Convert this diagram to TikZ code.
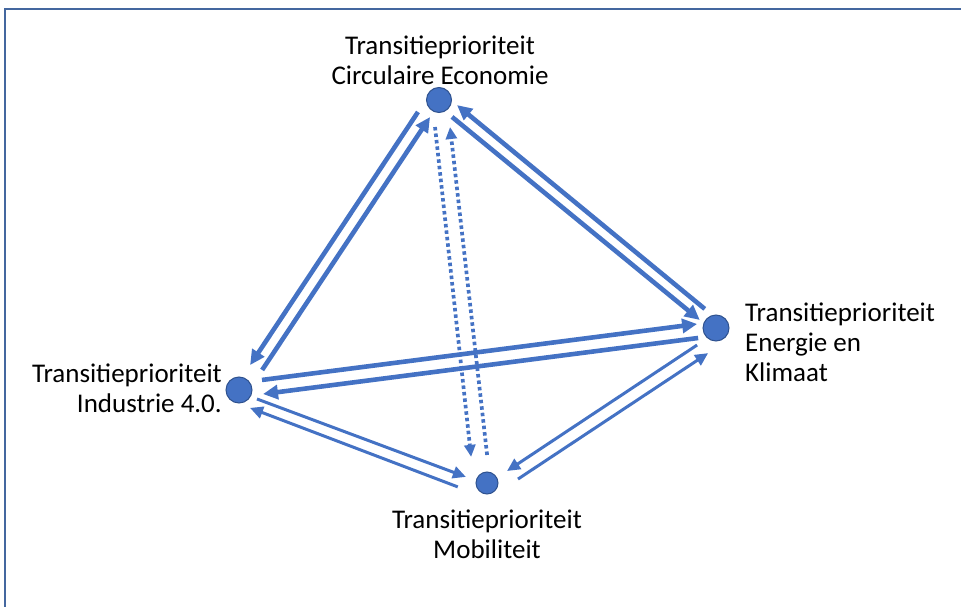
\documentclass[tikz,border=0pt]{standalone}
\usepackage{fontspec}
\setmainfont{Carlito}
\usetikzlibrary{arrows.meta,calc}
\definecolor{ablue}{HTML}{4472C4}
\definecolor{dblue}{HTML}{2F528F}
\definecolor{framec}{HTML}{44679F}
% style, from, to, start gap, end gap, left offset at start, left offset at end
\newcommand\conn[7][]{\draw[#1] ($(#2.center)!#4pt!(#3.center)!#6pt!90:(#3.center)$) -- ($(#3.center)!#5pt!(#2.center)!#7pt!-90:(#2.center)$);}
\tikzset{
  thk/.style={draw=ablue, line width=4.6pt, -{Triangle[length=15pt,width=14pt]}},
  thn/.style={draw=ablue, line width=3pt, -{Triangle[length=13pt,width=12pt]}},
  dotarr/.style={draw=ablue, line width=3.7pt, dash pattern=on 3.5pt off 3pt, -{Triangle[length=12pt,width=11pt]}},
  vtx/.style={circle, fill=ablue, draw=dblue, line width=1pt, inner sep=0pt},
  lbl/.style={font=\fontsize{27}{30}\selectfont, text=black, inner sep=0pt},
  framel/.style={draw=framec, line width=2pt}
}
\begin{document}
\begin{tikzpicture}[x=1pt,y=1pt]
\useasboundingbox (0,0) rectangle (961,-607);
\coordinate (f1) at (4.5,-607);
\coordinate (f2) at (4.5,-9.5);
\coordinate (f3) at (961,-9.5);
\draw[framel] (f1) -- (f2) -- (f3);

\node[vtx, minimum size=25pt] (C) at (439,-100) {};
\node[vtx, minimum size=26pt] (I) at (239,-390) {};
\node[vtx, minimum size=22pt] (M) at (487,-483) {};
\node[vtx, minimum size=26pt] (E) at (716,-328) {};

\node[lbl, align=center] (LC) at (440,-60) {Transitieprioriteit\\Circulaire Economie};
\node[lbl, align=right, anchor=east] (LI) at (222,-388) {Transitieprioriteit\\Industrie 4.0.};
\node[lbl, align=center] (LM) at (487,-534) {Transitieprioriteit\\Mobiliteit};
\node[lbl, align=left, anchor=west] (LE) at (745,-342) {Transitieprioriteit\\Energie en\\Klimaat};

\conn[thk]{C}{I}{21.8}{26.8}{-10.5}{-5}
\conn[thk]{I}{C}{29.6}{19.1}{-7.7}{-2.3}
\conn[thk]{C}{E}{20.8}{17.6}{-4.8}{-4.1}
\conn[thk]{E}{C}{20.8}{17.1}{-7.6}{-7.5}
\conn[thk]{I}{E}{24.1}{18.2}{7}{6.4}
\conn[thk]{E}{I}{19}{23.3}{7.6}{7.1}
\conn[thn]{I}{M}{20}{21.9}{-2.1}{-1.7}
\conn[thn]{M}{I}{26}{16.6}{13.9}{12.9}
\conn[thn]{E}{M}{25.2}{23.3}{3.5}{1.3}
\conn[thn]{M}{E}{27.9}{20.6}{-14.1}{-16.4}
\conn[dotarr]{C}{M}{26.3}{27.9}{-7.3}{-12.5}
\conn[dotarr]{M}{C}{27.8}{28.2}{-3.6}{-7.6}
\end{tikzpicture}
\end{document}
